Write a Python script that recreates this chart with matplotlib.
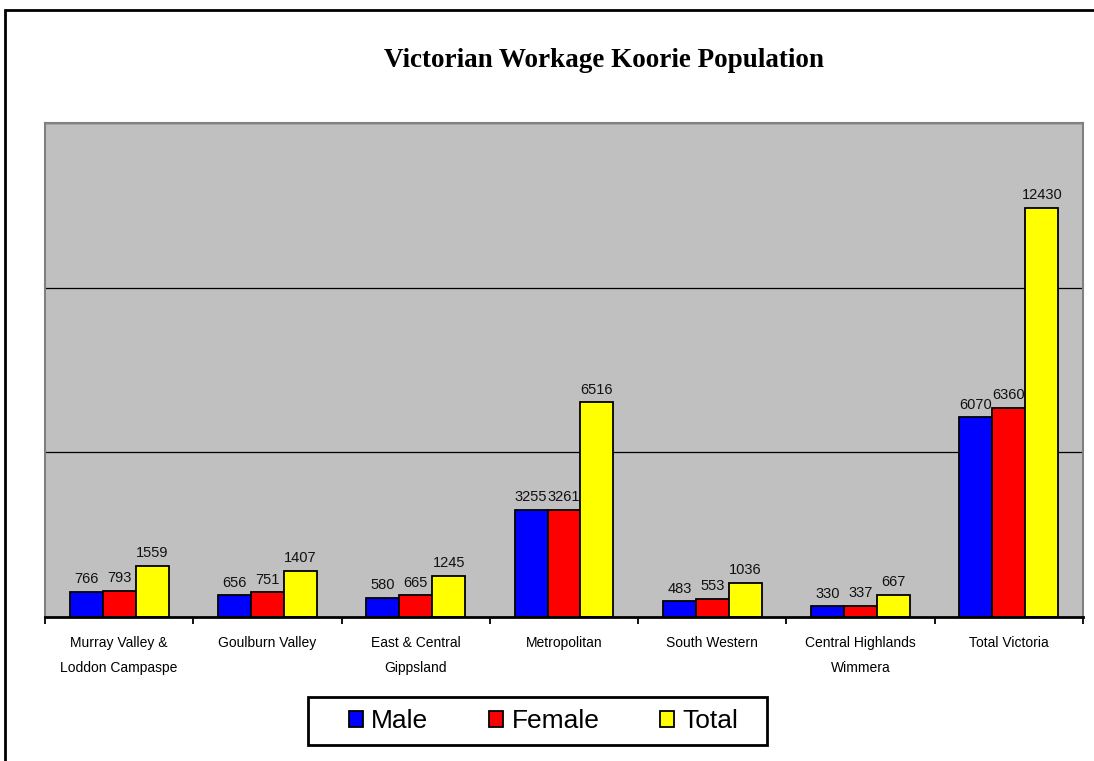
import matplotlib
matplotlib.use("Agg")
import matplotlib.pyplot as plt
from matplotlib.patches import Rectangle
import numpy as np

categories = ["Murray Valley &\nLoddon Campaspe", "Goulburn Valley", "East & Central\nGippsland",
              "Metropolitan", "South Western", "Central Highlands\nWimmera", "Total Victoria"]
male = [766, 656, 580, 3255, 483, 330, 6070]
female = [793, 751, 665, 3261, 553, 337, 6360]
total = [1559, 1407, 1245, 6516, 1036, 667, 12430]
series_names = ["Male", "Female", "Total"]
colors = ["#0000FF", "#FF0000", "#FFFF00"]

plt.rcParams['font.family'] = ['Liberation Sans', 'DejaVu Sans']

fig = plt.figure(figsize=(10.94, 7.61), dpi=100)
ax = fig.add_axes([45/1094, 1-617/761, (1083-45)/1094, (617-123)/761])
ax.set_facecolor("#C0C0C0")

x = np.arange(len(categories))
w = 0.222
for i, (vals, name, c) in enumerate(zip([male, female, total], series_names, colors)):
    bars = ax.bar(x + (i-1)*w, vals, w, color=c, edgecolor="black", linewidth=1.3,
                  label=name, zorder=3)
    ax.bar_label(bars, labels=[str(v) for v in vals], padding=4, fontsize=10.5, color="#111111")

ax.set_ylim(0, 15000)
ax.set_xlim(-0.5, len(categories)-0.5)
ax.set_yticks([5000, 10000, 15000])
ax.set_yticklabels([])
ax.tick_params(axis='y', length=0)
ax.yaxis.grid(True, color="black", linewidth=0.9, zorder=1)
ax.set_axisbelow(True)

ax.set_xticks(x)
ax.set_xticklabels(categories, fontsize=10, linespacing=2.0, va='top')
ax.tick_params(axis='x', which='major', length=0, pad=14)
ax.set_xticks(np.arange(-0.5, len(categories), 1.0), minor=True)
ax.tick_params(axis='x', which='minor', length=5, width=1.3, color='black', direction='out')

for s in ['top', 'left', 'right']:
    ax.spines[s].set_color("#808080")
    ax.spines[s].set_linewidth(1.5)
ax.spines['bottom'].set_color("black")
ax.spines['bottom'].set_linewidth(2)
ax.spines['bottom'].set_zorder(5)

fig.text(604/1094, 1-67/761, "Victorian Workage Koorie Population", ha='center', va='baseline',
         fontsize=19.5, fontweight='bold', family=['Liberation Serif', 'DejaVu Serif'])

leg = fig.legend(loc='center', bbox_to_anchor=(543.5/1094, 1-721/761), ncol=3, fontsize=19,
                 frameon=False, handlelength=0.55, handleheight=0.55, handletextpad=0.3,
                 columnspacing=2.3, borderpad=0.2)

fig.patches.append(Rectangle((308/1094, 1-745/761), (767-308)/1094, (745-697)/761,
                             transform=fig.transFigure, fill=False, edgecolor='black',
                             linewidth=2, zorder=0))

fig.patches.append(Rectangle((5/1094, -0.1), 1.2, 1.1 - 10/761, transform=fig.transFigure,
                             fill=False, edgecolor='black', linewidth=2))

fig.savefig("out.png", dpi=100)
